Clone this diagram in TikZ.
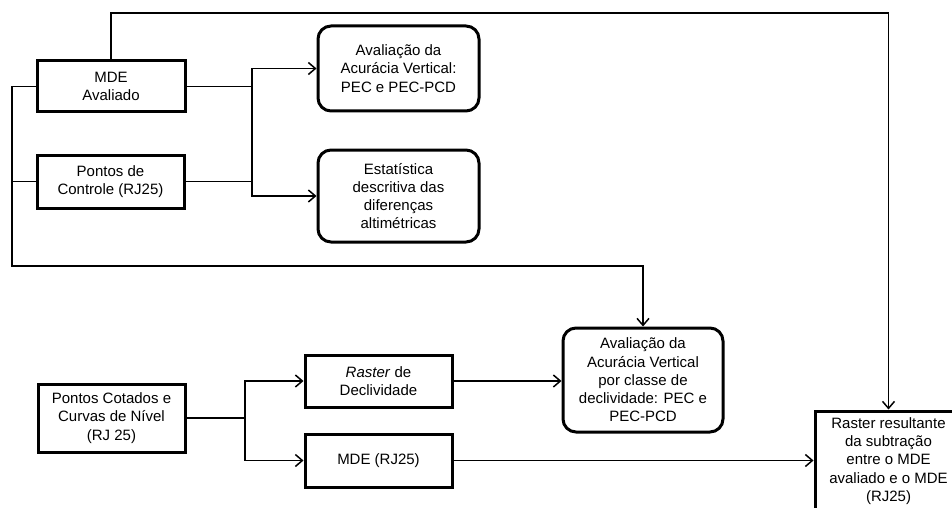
\documentclass[tikz,border=0pt]{standalone}
\usepackage{fontspec}
\setmainfont{Liberation Sans}
\usetikzlibrary{arrows.meta}
\begin{document}
\begin{tikzpicture}[x=1pt,y=-1pt,
  txt/.style={font=\fontsize{15}{18.3}\selectfont, align=center, inner sep=0pt},
  sqbox/.style={txt, draw, line width=3pt, rectangle},
  rbox/.style={txt, draw, line width=3pt, rectangle, rounded corners=13pt},
  conn/.style={line width=1.6pt},
  arr/.style={conn, -{Straight Barb[length=7pt,width=12pt,line width=1.5pt]}}]
\useasboundingbox (0,0) rectangle (952,508);
% nodes
\node[sqbox, minimum width=148, minimum height=51] (mde) at (111,86.5) {MDE\\Avaliado};
\node[sqbox, minimum width=147, minimum height=53] (pc) at (110.5,181.5) {Pontos de\\Controle (RJ25)};
\node[rbox, minimum width=161, minimum height=85] (aval1) at (398.5,68.5) {Avaliação da\\Acurácia Vertical:\\PEC e PEC-PCD};
\node[rbox, minimum width=161, minimum height=92] (est) at (398.5,196) {Estatística\\descritiva das\\diferenças\\altimétricas};
\node[rbox, minimum width=160, minimum height=104] (aval2) at (643,380) {Avaliação da\\Acurácia Vertical\\por classe de\\declividade: PEC e\\PEC-PCD};
\node[sqbox, minimum width=147, minimum height=68] (pcc) at (111.5,418) {Pontos Cotados e\\Curvas de Nível\\(RJ 25)};
\node[sqbox, minimum width=147, minimum height=52] (rd) at (378.5,381) {\textit{Raster} de\\Declividade};
\node[sqbox, minimum width=147, minimum height=53] (mde2) at (378.5,460.5) {MDE (RJ25)};
\node[sqbox, minimum width=147, minimum height=100] (raster) at (888.5,461) {Raster resultante\\da subtração\\entre o MDE\\avaliado e o MDE\\(RJ25)};
% junction coordinates
\coordinate (ja) at (252,0);
\coordinate (jl) at (12,0);
\coordinate (jb) at (12,266);
\coordinate (jt) at (500,13);
\coordinate (jc) at (245,0);
% connectors
\draw[arr] (mde.east) -| (ja |- aval1.west) -- (aval1.west);
\draw[arr] (pc.east) -| (ja |- est.west) -- (est.west);
\draw[conn] (ja |- mde.east) -- (ja |- pc.east);
\draw[arr] (mde.west) -| (jb) -| (aval2.north);
\draw[conn] (pc.west) -- (jl |- pc.west);
\draw[arr] (mde.north) |- (jt) -| (raster.north);
\draw[arr] (pcc.east) -| (jc |- rd.west) -- (rd.west);
\draw[arr] (pcc.east) -| (jc |- mde2.west) -- (mde2.west);
\draw[arr] (rd.east) -- (aval2.west |- rd.east);
\draw[arr] (mde2.east) -- (raster.west |- mde2.east);
\end{tikzpicture}
\end{document}
